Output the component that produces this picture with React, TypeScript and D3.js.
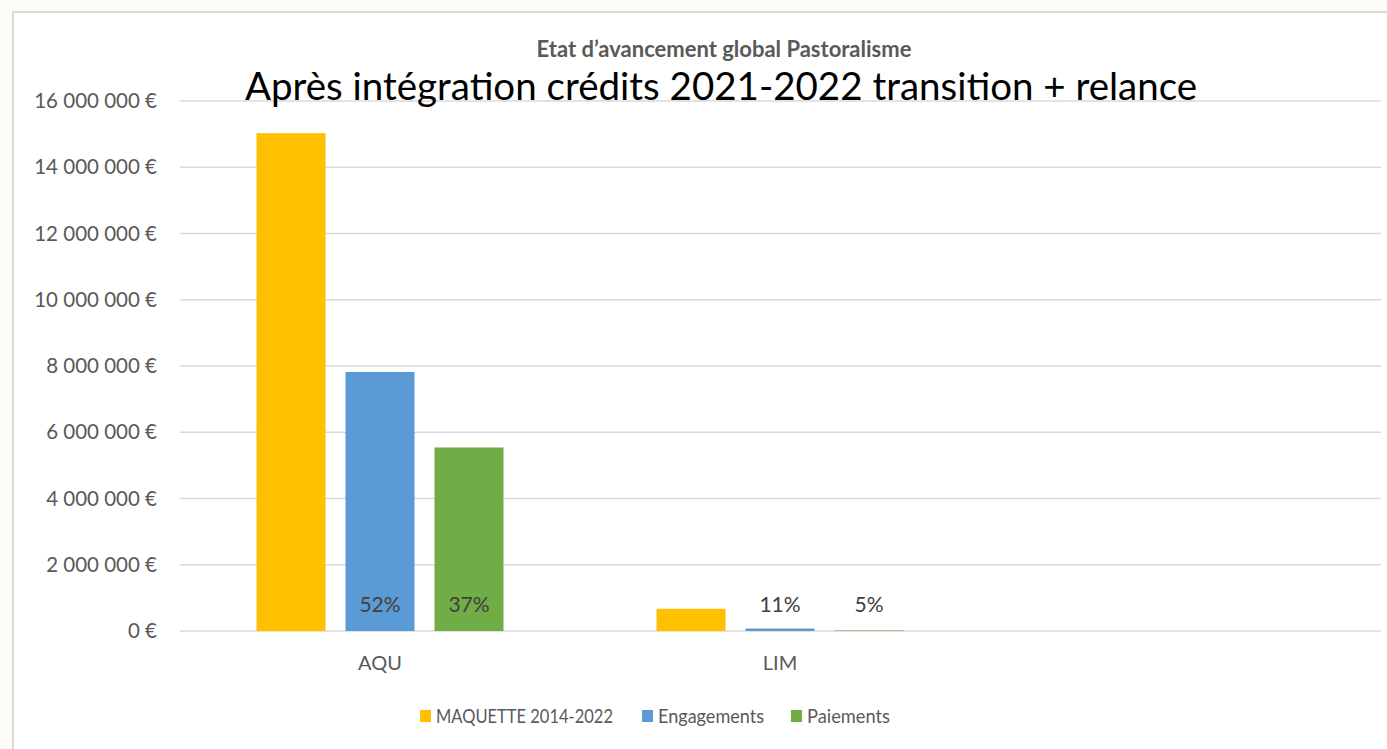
import React from "react";
import * as d3 from "d3";

const categories = ["AQU", "LIM", ""];
const seriesNames = ["MAQUETTE 2014-2022", "Engagements", "Paiements"];
const maquette = [15030000, 670000, 0];
const engagements = [7820000, 74000, 0];
const paiements = [5540000, 15000, 0];
const pctEngagements = ["52%", "11%", ""];
const pctPaiements = ["37%", "5%", ""];
const yTicks = [0, 2000000, 4000000, 6000000, 8000000, 10000000, 12000000, 14000000, 16000000];
const colors = ["#FFC000", "#5B9BD5", "#70AD47"];

const W = 1387;
const H = 749;
const FONT = "Lato, 'Open Sans', sans-serif";

function fmtEuro(v: number): string {
  if (v === 0) return "0 €";
  const s = String(Math.round(v));
  return s.replace(/\B(?=(\d{3})+(?!\d))/g, " ") + " €";
}

export default function App() {
  const x = d3.scaleBand<string>().domain(categories).range([180, 1380]).paddingInner(0).paddingOuter(0);
  const xs = d3.scaleBand<string>().domain(seriesNames).range([0, x.bandwidth()]).paddingInner(20 / 89).paddingOuter(0.8596);
  const y = d3.scaleLinear().domain([0, 16000000]).range([631, 101]);
  const values = [maquette, engagements, paiements];
  const pcts = [null, pctEngagements, pctPaiements];

  const legendX = [420, 642, 791];
  const legendLen = [177, 106, 83];

  return (
    <div style={{ position: "absolute", left: 0, top: 0 }}>
      <svg width={W} height={H} style={{ display: "block", fontFamily: FONT }}>
        <rect x={0} y={0} width={W} height={H} fill="#fcfbf8" />
        <rect x={13} y={12} width={W} height={H} fill="#ffffff" stroke="#d9d9d9" strokeWidth={2} />
        {yTicks.map((t) => (
          <g key={t}>
            <line x1={180} x2={1381} y1={y(t)} y2={y(t)} stroke="#d9d9d9" strokeWidth={1.5} />
            <text x={157} y={y(t) + 7} textAnchor="end" fontSize={20.5} fill="#595959">
              {fmtEuro(t)}
            </text>
          </g>
        ))}
        {categories.map((c, ci) => (
          <g key={"c" + ci} transform={`translate(${x(c)},0)`}>
            {seriesNames.map((s, si) => {
              const v = values[si][ci];
              if (!v) return null;
              return (
                <rect
                  key={s}
                  x={xs(s)}
                  y={y(v)}
                  width={xs.bandwidth()}
                  height={y(0) - y(v)}
                  fill={colors[si]}
                />
              );
            })}
            {seriesNames.map((s, si) => {
              const p = pcts[si];
              if (!p || !p[ci]) return null;
              return (
                <text
                  key={"p" + s}
                  x={(xs(s) as number) + xs.bandwidth() / 2}
                  y={612}
                  textAnchor="middle"
                  fontSize={21}
                  fill="#404040"
                >
                  {p[ci]}
                </text>
              );
            })}
            {c && (
              <text x={x.bandwidth() / 2} y={670} textAnchor="middle" fontSize={20} fill="#595959">
                {c}
              </text>
            )}
          </g>
        ))}
        <text x={724} y={57} textAnchor="middle" fontSize={22} fontWeight="bold" fill="#595959">
          Etat d’avancement global Pastoralisme
        </text>
        <text x={721} y={100} textAnchor="middle" fontSize={38.5} fill="#000000">
          Après intégration crédits 2021-2022 transition + relance
        </text>
        {seriesNames.map((s, si) => (
          <g key={"l" + s}>
            <rect x={legendX[si]} y={710} width={11} height={12} fill={colors[si]} />
            <text
              x={legendX[si] + 16}
              y={723}
              fontSize={19}
              fill="#595959"
              textLength={legendLen[si]}
              lengthAdjust="spacingAndGlyphs"
            >
              {s}
            </text>
          </g>
        ))}
      </svg>
    </div>
  );
}
